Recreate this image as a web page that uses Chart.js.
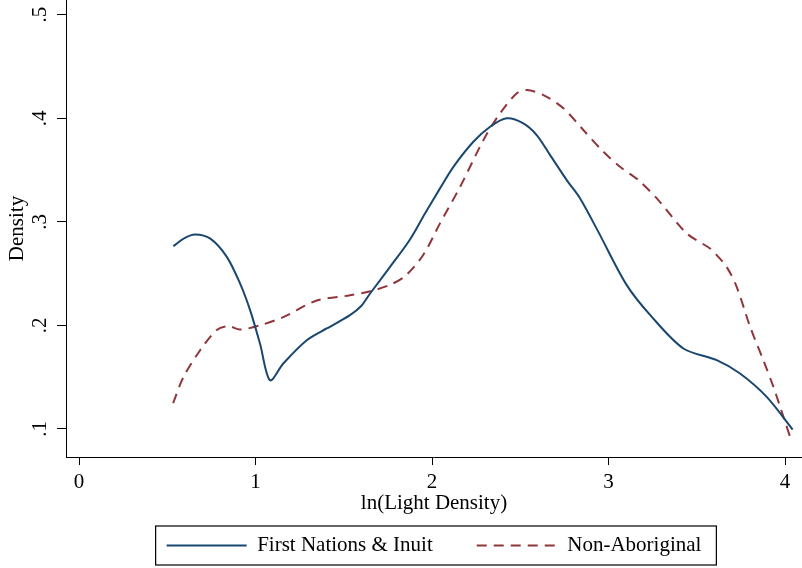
<!DOCTYPE html>
<html>
<head>
<meta charset="utf-8">
<script src="https://cdn.jsdelivr.net/npm/chart.js@4"></script>
<style>
  body { margin: 0; background: #fff; }
</style>
</head>
<body>
<canvas id="densityChart" width="802" height="568"></canvas>
<script>
// kernel density curves
const firstNationsX = [0.534, 0.60, 0.657, 0.742, 0.837, 0.912, 0.969, 1.025, 1.082, 1.157, 1.29, 1.403, 1.535, 1.60, 1.65, 1.76, 1.875, 1.96, 2.045, 2.121, 2.234, 2.329, 2.423, 2.517, 2.593, 2.669, 2.763, 2.839, 2.94, 3.103, 3.245, 3.424, 3.613, 3.745, 3.896, 4.043]
const firstNationsY = [0.2765, 0.2845, 0.2878, 0.284, 0.2662, 0.2405, 0.2147, 0.1825, 0.147, 0.1632, 0.1857, 0.197, 0.2099, 0.219, 0.231, 0.256, 0.283, 0.308, 0.3323, 0.3531, 0.3773, 0.3918, 0.3999, 0.3951, 0.3838, 0.3644, 0.3403, 0.3226, 0.291, 0.2389, 0.2082, 0.1777, 0.1664, 0.1535, 0.1309, 0.0994]

const nonAboriginalX = [0.533, 0.591, 0.686, 0.780, 0.846, 0.912, 1.025, 1.157, 1.347, 1.535, 1.65, 1.76, 1.85, 1.95, 2.045, 2.159, 2.291, 2.385, 2.48, 2.537, 2.631, 2.744, 2.857, 2.971, 3.065, 3.169, 3.282, 3.443, 3.575, 3.613, 3.669, 3.726, 3.802, 3.877, 3.934, 3.991, 4.038]
const nonAboriginalY = [0.125, 0.150, 0.176, 0.1955, 0.1992, 0.196, 0.200, 0.208, 0.224, 0.229, 0.233, 0.239, 0.248, 0.268, 0.2985, 0.3338, 0.3789, 0.4047, 0.4241, 0.4272, 0.4224, 0.4096, 0.3887, 0.3676, 0.3531, 0.3403, 0.321, 0.2888, 0.2743, 0.2678, 0.2565, 0.2372, 0.1986, 0.1664, 0.1406, 0.1116, 0.0874]

const xTicks = [0, 1, 2, 3, 4]
const yTicks = [0.1, 0.2, 0.3, 0.4, 0.5]

const toPoints = (xs, ys) => xs.map((x, i) => ({ x: x, y: ys[i] }))

const font = { family: "'Liberation Serif', 'Times New Roman', serif", size: 21 }
const legendPad = 44

// legend: wide gap between items, but a short box around them
const legendFrame = {
    id: 'legendFrame',
    afterLayout(chart) {
        // items sit at top + padding, pull the top up so they land in the box
        chart.legend.top -= legendPad - 10
    },
    afterDraw(chart) {
        const boxes = chart.legend.legendHitBoxes
        if (!boxes.length) return
        const first = boxes[0]
        const last = boxes[boxes.length - 1]
        const mid = first.top + first.height / 2
        const left = first.left - 11
        const right = last.left + last.width + 15
        const ctx = chart.ctx
        ctx.save()
        ctx.strokeStyle = '#000'
        ctx.lineWidth = 1.2
        ctx.strokeRect(left, mid - 19.5, right - left, 39)
        ctx.restore()
    }
}

const ctx = document.getElementById('densityChart').getContext('2d')
const chart = new Chart(ctx, {
    type: 'line',
    data: {
        datasets: [{
            label: 'First Nations & Inuit',
            data: toPoints(firstNationsX, firstNationsY),
            borderColor: '#1a476f',
            backgroundColor: '#1a476f',
            borderWidth: 2,
            pointRadius: 0,
            tension: 0.3,
            fill: false
        }, {
            label: 'Non-Aboriginal',
            data: toPoints(nonAboriginalX, nonAboriginalY),
            borderColor: '#90353b',
            backgroundColor: '#90353b',
            borderWidth: 2,
            borderDash: [10, 7],
            pointRadius: 0,
            tension: 0.3,
            fill: false
        }]
    },
    options: {
        responsive: false,
        animation: false,
        devicePixelRatio: 1,
        layout: { padding: { left: 0, right: 0, top: 0, bottom: 2 } },
        plugins: {
            tooltip: { enabled: false },
            legend: {
                position: 'bottom',
                fullSize: false,
                maxHeight: 41,
                labels: {
                    usePointStyle: true,
                    pointStyle: 'line',
                    pointStyleWidth: 80,
                    padding: legendPad,
                    color: '#000',
                    font: font,
                    // point style drops the dash, put the line style back
                    generateLabels: chart => Chart.defaults.plugins.legend.labels.generateLabels(chart).map(item => {
                        const ds = chart.data.datasets[item.datasetIndex]
                        item.lineDash = ds.borderDash || []
                        item.lineWidth = ds.borderWidth
                        item.strokeStyle = ds.borderColor
                        return item
                    })
                }
            }
        },
        scales: {
            x: {
                type: 'linear',
                min: -0.074,
                max: 4.096,
                afterBuildTicks: s => { s.ticks = xTicks.map(v => ({ value: v })) },
                afterFit: s => { s.height = 68; s.paddingLeft = 0; s.paddingRight = 0 },
                grid: { drawOnChartArea: false, drawTicks: true, tickLength: 8, tickColor: '#000' },
                border: { display: true, color: '#000', width: 1 },
                ticks: { color: '#000', font: font, padding: 5, maxRotation: 0 },
                title: { display: true, text: 'ln(Light Density)', color: '#000', font: font, padding: 9 }
            },
            y: {
                type: 'linear',
                min: 0.0729,
                max: 0.5142,
                afterBuildTicks: s => { s.ticks = yTicks.map(v => ({ value: v })) },
                afterFit: s => { s.width = 66; s.paddingTop = 0; s.paddingBottom = 0 },
                grid: { drawOnChartArea: false, drawTicks: true, tickLength: 9, tickColor: '#000' },
                border: { display: true, color: '#000', width: 1 },
                ticks: {
                    color: '#000',
                    font: font,
                    padding: 9,
                    minRotation: 90,
                    maxRotation: 90,
                    crossAlign: 'center',
                    callback: v => v.toFixed(1).replace('0.', '.')
                },
                title: { display: true, text: 'Density', color: '#000', font: font, padding: 5 }
            }
        }
    },
    plugins: [legendFrame]
})
</script>
</body>
</html>
